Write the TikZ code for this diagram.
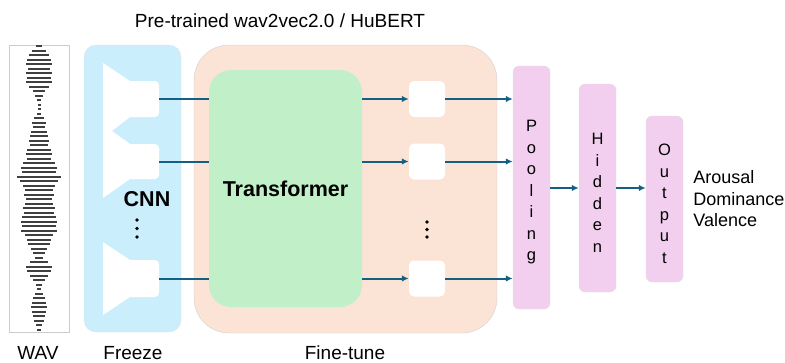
\documentclass[tikz,border=0pt]{standalone}
\usepackage{fontspec}
\setmainfont{Liberation Sans}
\usetikzlibrary{arrows.meta,positioning}

\definecolor{cnnblue}{HTML}{CAEEFB}
\definecolor{tunepeach}{HTML}{FBE3D6}
\definecolor{trgreen}{HTML}{C1F0C8}
\definecolor{headpink}{HTML}{F2CFEE}
\definecolor{flowblue}{HTML}{156082}
\definecolor{barink}{HTML}{404040}

\tikzset{
  lbl/.style={font=\fontsize{19}{21.5}\selectfont, inner sep=0pt},
  boldlbl/.style={font=\fontsize{21.5}{24}\selectfont\bfseries, inner sep=0pt},
  vtxt/.style={font=\fontsize{16.5}{21.5}\selectfont, align=center, inner sep=0pt},
  headbox/.style={draw=black!12, fill=headpink, rounded corners=6pt, minimum width=37pt, inner sep=0pt},
  tok/.style={fill=white, rounded corners=5pt, minimum size=36pt, inner sep=0pt},
  link/.style={draw=flowblue, line width=2pt},
  flow/.style={link, -{Latex[length=7pt,width=6.5pt]}},
  wavebar/.style={draw=barink, line width=2pt}
}

\begin{document}
\begin{tikzpicture}[x=1pt,y=-1pt]
  \useasboundingbox (0,0) rectangle (785,362);

  % panels
  \node[draw=black!20, fill=white, minimum width=60pt, minimum height=287pt, inner sep=0pt] (wav) at (39,188.5) {};
  \node[draw=black!10, fill=cnnblue, rounded corners=12pt, minimum width=97pt, minimum height=287pt, inner sep=0pt] (cnn) at (132.5,188.5) {};
  \node[draw=black!18, fill=tunepeach, rounded corners=35pt, minimum width=303pt, minimum height=288pt, inner sep=0pt] (tune) at (345.5,189) {};
  \node[fill=trgreen, rounded corners=22pt, minimum width=153pt, minimum height=237pt, inner sep=0pt,
        font=\fontsize{21.5}{24}\selectfont\bfseries] (tr) at (285.5,188.5) {Transformer};

  % waveform
  \foreach \i/\w in {0/3,1/7,2/10,3/12,4/13,5/11,6/13,7/12,8/13,9/10,10/6,11/4,12/2,13/1.5,14/1.5,15/2,
                     16/5,17/7,18/6,19/8,20/9,21/10,22/9,23/12,24/13,25/12,26/16,27/18,28/17,29/22,30/19,31/16,
                     32/14,33/15,34/13,35/14,36/16,37/15,38/17,39/18,40/17,41/18,42/14,43/12,44/11,45/8,46/6,47/4,
                     48/9,49/13,50/12,51/9,52/6,53/3,54/2,55/4,56/6,57/7,58/8,59/7,60/6,61/5,62/3,63/2}
    \draw[wavebar] ({39-\w},{46+4.5*\i}) -- ({39+\w},{46+4.5*\i});

  % CNN funnels
  \fill[white] (103,63) -- (130,81) -- (135,81) -- (135,117) -- (130,117) -- (112,131) -- (130,144)
               -- (135,144) -- (135,179) -- (130,179) -- (103,198) -- cycle;
  \fill[white, rounded corners=4pt] (128,81) rectangle (159,117);
  \fill[white, rounded corners=4pt] (128,144) rectangle (159,179);
  \fill[white] (103,242) -- (130,260) -- (135,260) -- (135,297) -- (130,297) -- (103,315) -- cycle;
  \fill[white, rounded corners=4pt] (128,260) rectangle (159,297);
  \coordinate (cnn1) at (159,99);
  \coordinate (cnn2) at (159,161.5);
  \coordinate (cnn3) at (159,278.5);
  \node[boldlbl, anchor=base] (cnnlbl) at (147,206) {CNN};
  \foreach \y in {220,228.5,237} \fill (137,\y) circle (1.8pt);

  % tokens
  \node[tok] (t1) at (427,99) {};
  \node[tok] (t2) at (427,161.5) {};
  \node[tok] (t3) at (427,278.5) {};
  \foreach \y in {222,229.5,237} \fill (427,\y) circle (1.8pt);

  % head
  \node[headbox, minimum height=243pt] (pool) at (531.5,187.5) {};
  \node[headbox, minimum height=208pt] (hid) at (597.5,188) {};
  \node[headbox, minimum height=166pt] (out) at (664.5,199) {};
  \node[vtxt] at ([yshift=-5pt]pool.center) {P\\o\\o\\l\\i\\n\\g};
  \node[vtxt] at ([yshift=-5pt]hid.center) {H\\i\\d\\d\\e\\n};
  \node[vtxt] at ([yshift=-5pt]out.center) {O\\u\\t\\p\\u\\t};
  \node[lbl, font=\fontsize{18}{21.5}\selectfont, align=left, right=10pt of out] (dims) {Arousal\\Dominance\\Valence};

  % connectors
  \foreach \k in {1,2,3} {
    \draw[link] (cnn\k) -- (cnn\k -| tr.west);
    \draw[flow] (cnn\k -| tr.east) -- (t\k);
    \draw[flow] (t\k) -- (t\k -| pool.west);
  }
  \draw[flow] (pool.east |- hid) -- (hid);
  \draw[flow] (hid) -- (hid -| out.west);

  % labels
  \node[lbl, anchor=base] (title) at (280,27) {Pre-trained wav2vec2.0 / HuBERT};
  \node[lbl, anchor=base] (wavlbl) at (38,359) {WAV};
  \node[lbl, anchor=base] (frzlbl) at (133,359) {Freeze};
  \node[lbl, anchor=base] (ftlbl) at (345,359) {Fine-tune};
\end{tikzpicture}
\end{document}
